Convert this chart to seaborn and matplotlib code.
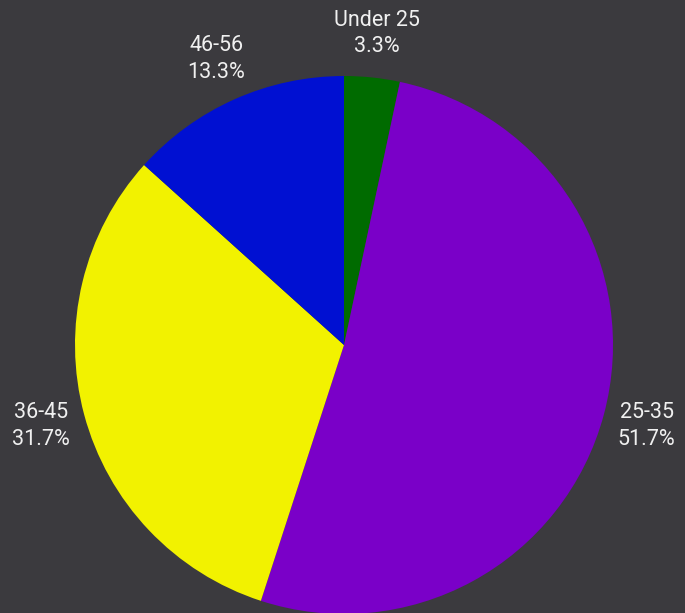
import matplotlib
matplotlib.use("Agg")
import matplotlib.pyplot as plt
import seaborn as sns

categories = ["Under 25", "25-35", "36-45", "46-56"]
counts = [2, 31, 19, 8]
colors = ["#006b00", "#7a00c8", "#f2f200", "#0010d2"]

sns.set_theme(style="dark")
plt.rcParams["font.family"] = ["Roboto", "DejaVu Sans"]

bg = "#3b3a3e"
fig = plt.figure(figsize=(6.85, 6.13), dpi=100)
fig.patch.set_facecolor(bg)
ax = fig.add_axes([75 / 685, -1 / 613, 538 / 685, 538 / 613])
ax.set_facecolor(bg)

total = sum(counts)
labels = [f"{c}\n{v / total * 100:.1f}%" for c, v in zip(categories, counts)]
wedges, texts = ax.pie(
    counts, colors=colors, startangle=90, counterclock=False,
    labels=labels, labeldistance=1.165, radius=1,
    textprops=dict(color="#f0f0f0", fontsize=15.5, ha="center", va="center", linespacing=1.35),
    wedgeprops=dict(linewidth=0),
)
for t in texts:
    t.set_horizontalalignment("center")
ax.set_xlim(-1, 1)
ax.set_ylim(-1, 1)
ax.set_aspect("equal")
ax.axis("off")
fig.savefig("out.png", dpi=100, facecolor=bg)
